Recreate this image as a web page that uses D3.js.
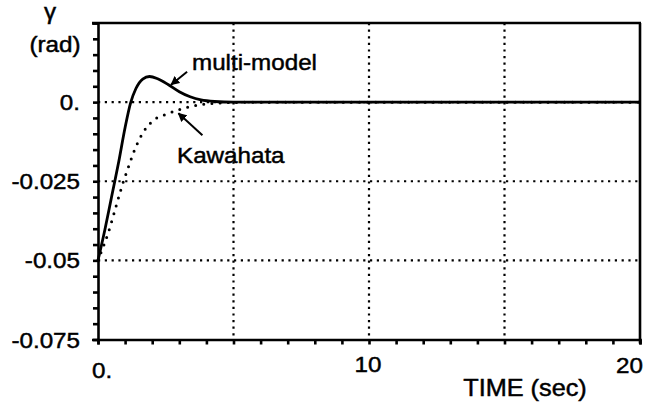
<!DOCTYPE html>
<html>
<head>
<meta charset="utf-8">
<script src="https://cdn.jsdelivr.net/npm/d3@7"></script>
<style>
  body { margin: 0; background: #fff; }
  svg { display: block; }
  text { font-family: "Liberation Sans", Arial, Helvetica, sans-serif; fill: #000; stroke: #000; stroke-width: 0.45px; }
</style>
</head>
<body>
<div id="chart"></div>
<script>
// time response of gamma (rad)
const tMulti = [0, 0.25, 0.5, 0.75, 1.0, 1.2, 1.4, 1.65, 1.9, 2.2, 2.6, 3.0, 3.4, 3.8, 4.3, 5, 7, 10, 15, 20];
const multiModel = [-0.05, -0.0405, -0.030, -0.0195, -0.008, -0.0003, 0.0043, 0.0073, 0.0081, 0.0074, 0.0055, 0.0033, 0.0017, 0.0007, 0.0002, 0, 0, 0, 0, 0];
const tKawa = [0, 0.44, 0.69, 0.93, 1.12, 1.3, 1.67, 2.04, 2.5, 2.96, 3.4, 3.9, 4.4, 5, 6, 10, 15, 20];
const kawahata = [-0.05, -0.0396, -0.0322, -0.0253, -0.0206, -0.0162, -0.0095, -0.0058, -0.0039, -0.0025, -0.0014, -0.0007, -0.0003, -0.0001, 0, 0, 0, 0];

const xTicks = [0, 10, 20];
const xTickLabels = ['0.', '10', '20'];
const yTicks = [0, -0.025, -0.05, -0.075];
const yTickLabels = ['0.', '-0.025', '-0.05', '-0.075'];
const xGrid = [5, 10, 15];
const yGrid = [0, -0.025, -0.05];

const width = 648, height = 404;
const mLeft = 98, mRight = 640, mTop = 23, mBottom = 339.5;
const stretch = 1.1;

const svg = d3.select('#chart').append('svg').attr('width', width).attr('height', height);

const x = d3.scaleLinear().domain([0, 20]).range([mLeft, mRight]);
const y = d3.scaleLinear().domain([-0.075, 0.025]).range([mBottom, mTop]);

function label(str, px, py, anchor, size) {
  svg.append('text')
    .attr('transform', `translate(${px},${py}) scale(${stretch},1)`)
    .attr('text-anchor', anchor || 'start')
    .style('font-size', (size || 22) + 'px')
    .text(str);
}

// dotted grid
svg.append('g').selectAll('line').data(xGrid).enter().append('line')
  .attr('x1', d => x(d)).attr('x2', d => x(d)).attr('y1', mTop).attr('y2', mBottom)
  .attr('stroke', '#000').attr('stroke-width', 2.2).attr('stroke-dasharray', '2.2,4.4');
svg.append('g').selectAll('line').data(yGrid).enter().append('line')
  .attr('x1', mLeft).attr('x2', mRight).attr('y1', d => y(d)).attr('y2', d => y(d))
  .attr('stroke', '#000').attr('stroke-width', 2.2).attr('stroke-dasharray', '2.2,4.6');

// axes with minor ticks
const xMinor = d3.range(0, 21, 1);
const yMinor = d3.range(-0.075, 0.0251, 0.005);
svg.append('g').attr('transform', `translate(0,${mBottom})`)
  .call(d3.axisBottom(x).tickValues(xMinor).tickSize(5).tickSizeOuter(5).tickFormat(''))
  .call(g => g.selectAll('path,line').attr('stroke', '#000').attr('stroke-width', 2.6));
svg.append('g').attr('transform', `translate(${mLeft},0)`)
  .call(d3.axisLeft(y).tickValues(yMinor).tickSize(5).tickSizeOuter(6).tickFormat(''))
  .call(g => g.selectAll('path,line').attr('stroke', '#000').attr('stroke-width', 2.6));

// frame top and right
svg.append('line').attr('x1', mLeft - 6).attr('x2', mRight + 1).attr('y1', mTop).attr('y2', mTop)
  .attr('stroke', '#000').attr('stroke-width', 2.6);
svg.append('line').attr('x1', mRight).attr('x2', mRight).attr('y1', mTop).attr('y2', mBottom + 4)
  .attr('stroke', '#000').attr('stroke-width', 2.6);

// curves
const lineGen = d3.line().x(d => x(d[0])).y(d => y(d[1])).curve(d3.curveMonotoneX);
svg.append('path').datum(d3.zip(tMulti, multiModel)).attr('d', lineGen)
  .attr('fill', 'none').attr('stroke', '#000').attr('stroke-width', 2.8);
svg.append('path').datum(d3.zip(tKawa, kawahata)).attr('d', lineGen)
  .attr('fill', 'none').attr('stroke', '#000').attr('stroke-width', 3)
  .attr('stroke-linecap', 'round').attr('stroke-dasharray', '0,8.2');

// tick labels
xTicks.forEach((d, i) => {
  if (i === 0) label(xTickLabels[i], x(d) - 6, 378, 'start');
  else if (i === xTicks.length - 1) label(xTickLabels[i], x(d) + 3, 373, 'end');
  else label(xTickLabels[i], x(d) - 1, 372, 'middle');
});
yTicks.forEach((d, i) => label(yTickLabels[i], 80, y(d) + 8, 'end'));

// axis titles
label('\u03b3', 50, 19, 'middle', 22);
label('(rad)', 55, 52, 'middle', 22);
label('TIME (sec)', 525, 396, 'middle', 23);

// annotations
svg.append('defs').append('marker').attr('id', 'arrow')
  .attr('viewBox', '0 0 10 10').attr('refX', 9).attr('refY', 5)
  .attr('markerWidth', 9).attr('markerHeight', 9).attr('markerUnits', 'userSpaceOnUse')
  .attr('orient', 'auto')
  .append('path').attr('d', 'M0,0L10,5L0,10z').attr('fill', '#000');

const notes = [
  { text: 'multi-model', t: 2.66, v: 0.0052, dx: 17, dy: -14, tx: 192, ty: 70 },
  { text: 'Kawahata', t: 2.93, v: -0.0032, dx: 25, dy: 23, tx: 177, ty: 163 }
];
notes.forEach(n => {
  svg.append('line')
    .attr('x1', x(n.t) + n.dx).attr('y1', y(n.v) + n.dy)
    .attr('x2', x(n.t) + 1).attr('y2', y(n.v) + (n.dy > 0 ? 1 : -1))
    .attr('stroke', '#000').attr('stroke-width', 2).attr('marker-end', 'url(#arrow)');
  label(n.text, n.tx, n.ty, 'start', 22);
});
</script>
</body>
</html>
